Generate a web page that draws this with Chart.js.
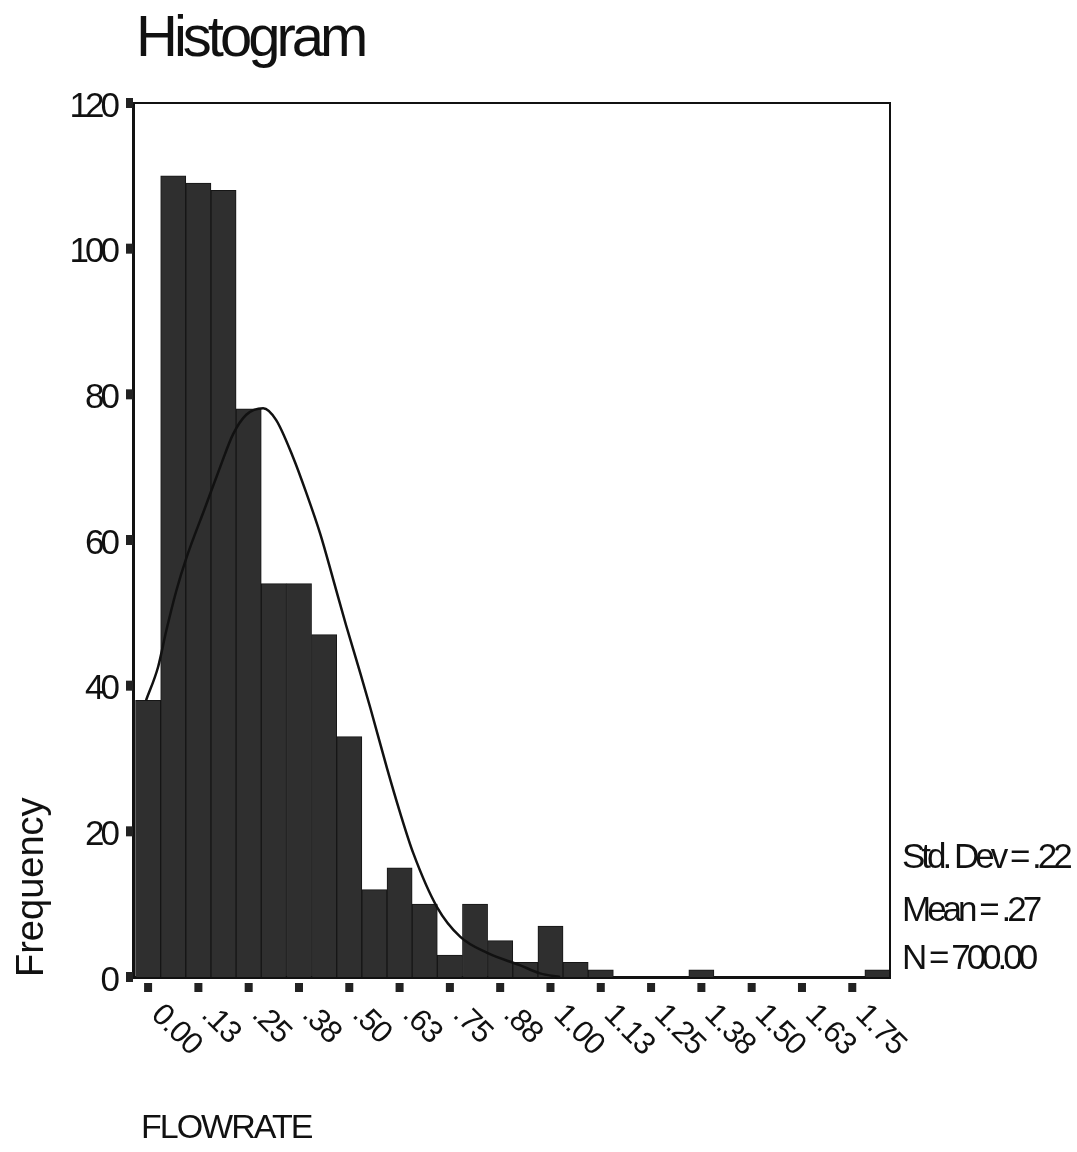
<!DOCTYPE html>
<html>
<head>
<meta charset="utf-8">
<script src="https://cdn.jsdelivr.net/npm/chart.js@4.4.1/dist/chart.umd.min.js"></script>
<style>
  html, body { margin: 0; padding: 0; background: #fff; }
  #wrap { width: 1077px; height: 1152px; }
</style>
</head>
<body>
<div id="wrap"><canvas id="histCanvas"></canvas></div>
<script>
// bin midpoints (FLOWRATE), bin width .0625
const binMids = [0, 0.0625, 0.125, 0.1875, 0.25, 0.3125, 0.375, 0.4375, 0.5, 0.5625,
  0.625, 0.6875, 0.75, 0.8125, 0.875, 0.9375, 1, 1.0625, 1.125, 1.1875,
  1.25, 1.3125, 1.375, 1.4375, 1.5, 1.5625, 1.625, 1.6875, 1.75, 1.8125];
const counts = [38, 110, 109, 108, 78, 54, 54, 47, 33, 12,
  15, 10, 3, 10, 5, 2, 7, 2, 1, 0,
  0, 0, 1, 0, 0, 0, 0, 0, 0, 1];

// normal curve, points
const curveX = [-0.005, 0.025, 0.045, 0.07, 0.095, 0.142, 0.179, 0.211, 0.244, 0.286,
  0.318, 0.36, 0.393, 0.428, 0.46, 0.492, 0.527, 0.552, 0.594, 0.626, 0.659,
  0.718, 0.776, 0.843, 0.925, 0.974, 1.024];
const curveY = [38, 42.6, 47.5, 53, 57.5, 64.5, 70, 74.5, 77.2, 78.1,
  76.5, 71.4, 66.5, 60.8, 54.6, 48.3, 41.8, 37, 28.6, 22.6, 17,
  9.6, 5.5, 3.3, 1.6, 0.5, 0];

const xTickValues = [0, 0.125, 0.25, 0.375, 0.5, 0.625, 0.75, 0.875, 1, 1.125, 1.25, 1.375, 1.5, 1.625, 1.75];
const xTickLabels = ['0.00', '.13', '.25', '.38', '.50', '.63', '.75', '.88', '1.00', '1.13', '1.25', '1.38', '1.50', '1.63', '1.75'];
const statLines = ['Std. Dev = .22', 'Mean = .27', 'N = 700.00'];

const FONT = '"Liberation Sans", Arial, sans-serif';

const extrasPlugin = {
  id: 'extras',
  beforeDraw: (chart) => {
    // old SPSS output has very tight lettering
    chart.ctx.letterSpacing = '-4px';
  },
  afterDraw: (chart) => {
    const ctx = chart.ctx;
    const area = chart.chartArea;
    const xs = chart.scales.x;
    const ys = chart.scales.y;
    ctx.save();

    // top and right frame
    ctx.strokeStyle = '#111';
    ctx.lineWidth = 2;
    ctx.beginPath();
    ctx.moveTo(area.left, area.top);
    ctx.lineTo(area.right, area.top);
    ctx.lineTo(area.right, area.bottom);
    ctx.stroke();

    // square tick marks
    ctx.fillStyle = '#222';
    xTickValues.forEach((v) => {
      const px = xs.getPixelForValue(v);
      ctx.fillRect(px - 4, area.bottom + 6, 8, 9);
    });
    ys.ticks.forEach((t) => {
      const py = ys.getPixelForValue(t.value);
      ctx.fillRect(area.left - 7, py - 5, 7, 10);
    });

    // rotated x labels
    ctx.fillStyle = '#111';
    ctx.font = '31px ' + FONT;
    ctx.letterSpacing = '-1px';
    ctx.textAlign = 'left';
    ctx.textBaseline = 'middle';
    xTickLabels.forEach((lab, i) => {
      const px = xs.getPixelForValue(xTickValues[i]);
      ctx.save();
      ctx.translate(px + 8, area.bottom + 33);
      ctx.rotate(Math.PI / 4);
      ctx.fillText(lab, 0, 0);
      ctx.restore();
    });

    // x axis title
    ctx.textBaseline = 'alphabetic';
    ctx.font = '34px ' + FONT;
    ctx.letterSpacing = '-2px';
    ctx.fillText('FLOWRATE', 141, 1138);

    // y axis title
    ctx.save();
    ctx.font = '38px ' + FONT;
    ctx.letterSpacing = '0px';
    ctx.translate(43, area.bottom);
    ctx.rotate(-Math.PI / 2);
    ctx.fillText('Frequency', 0, 0);
    ctx.restore();

    // chart title
    ctx.font = '58px ' + FONT;
    ctx.letterSpacing = '-4px';
    ctx.fillText('Histogram', 136, 56);

    // stats box
    ctx.font = '35px ' + FONT;
    ctx.letterSpacing = '-4px';
    const statY = [868, 921, 969];
    statLines.forEach((s, i) => ctx.fillText(s, 902, statY[i]));

    ctx.restore();
  }
};

const ctx = document.getElementById('histCanvas').getContext('2d');
const chart = new Chart(ctx, {
  type: 'bar',
  data: {
    datasets: [{
      type: 'line',
      data: curveX.map((x, i) => ({ x: x, y: curveY[i] })),
      borderColor: '#111',
      borderWidth: 2.5,
      pointRadius: 0,
      tension: 0.4,
      cubicInterpolationMode: 'monotone',
      fill: false,
      order: 0
    }, {
      type: 'bar',
      data: binMids.map((x, i) => ({ x: x, y: counts[i] })),
      backgroundColor: '#2f2f2f',
      borderColor: '#161616',
      borderWidth: 1,
      barPercentage: 1.0,
      categoryPercentage: 1.0,
      order: 1
    }]
  },
  options: {
    responsive: true,
    maintainAspectRatio: false,
    animation: false,
    layout: {
      padding: { top: 103, right: 187, left: 0, bottom: 0 }
    },
    scales: {
      x: {
        type: 'linear',
        min: -0.0375,
        max: 1.84375,
        offset: false,
        grid: { display: false, offset: false },
        border: { display: true, color: '#111', width: 3 },
        ticks: { display: false },
        afterFit: (scale) => { scale.height = 175; }
      },
      y: {
        min: 0,
        max: 120,
        grid: { display: false },
        border: { display: true, color: '#111', width: 3 },
        ticks: {
          stepSize: 20,
          padding: 9,
          labelOffset: 4,
          color: '#111',
          font: { family: FONT, size: 35 }
        },
        afterFit: (scale) => { scale.width = 133; }
      }
    },
    plugins: {
      legend: { display: false },
      tooltip: { enabled: false }
    }
  },
  plugins: [extrasPlugin]
});
</script>
</body>
</html>
